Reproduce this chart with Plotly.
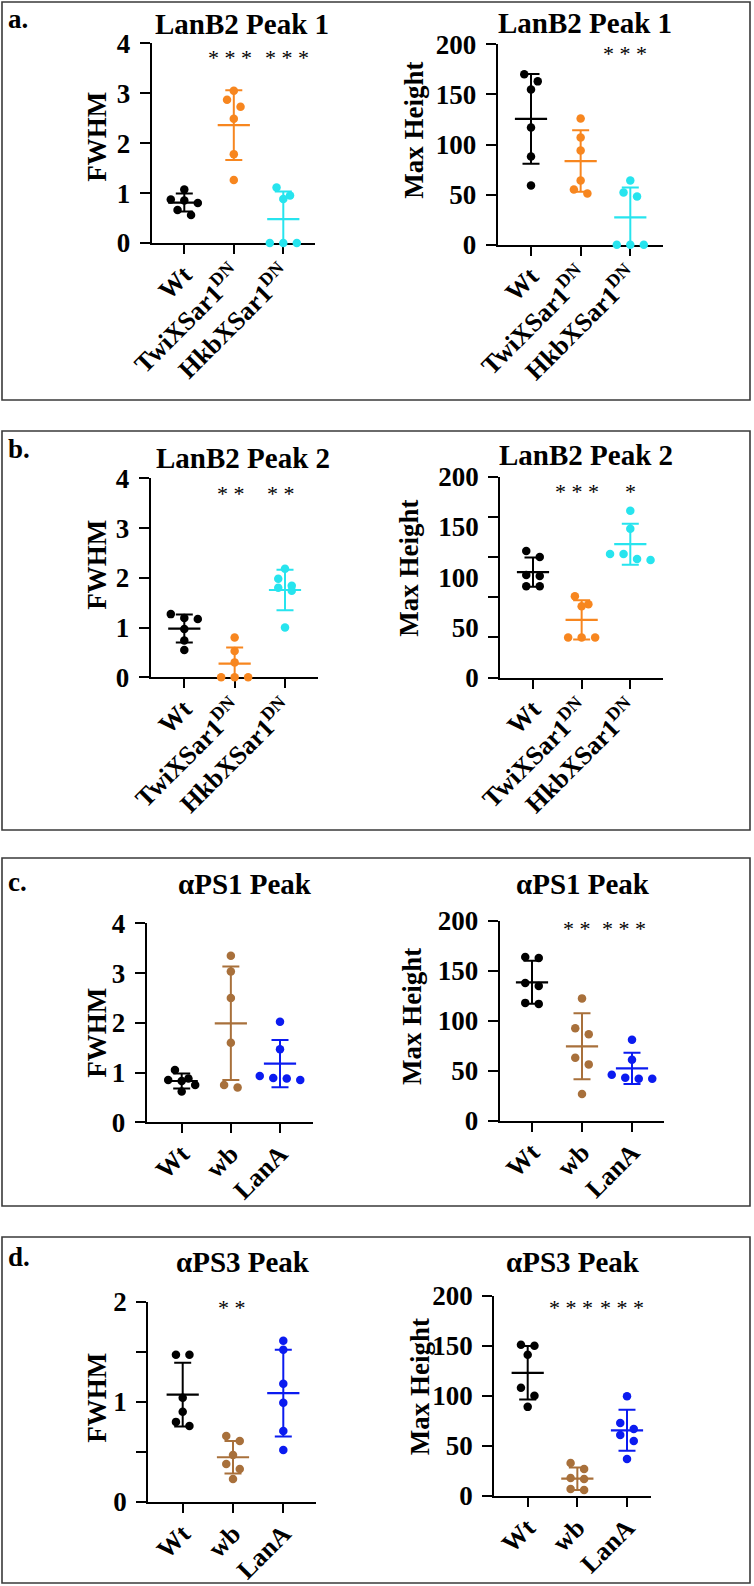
import plotly.graph_objects as go

W, H = 754, 1586
FONT = "Liberation Serif, Times New Roman, Times, serif"

# ---------------- colours ----------------
C_BLACK = "#000000"
C_ORANGE = "#F7861F"
C_CYAN = "#27E4EE"
C_BROWN = "#A8703B"
C_BLUE = "#0B1BF0"

# ---------------- categories ----------------
cats_sar = ["Wt", "TwiXSar1<sup>DN</sup>", "HkbXSar1<sup>DN</sup>"]
cats_ps = ["Wt", "wb", "LanA"]

# ---------------- data ----------------
# a. LanB2 Peak 1 - FWHM
a_fwhm_wt = [1.07, 0.87, 0.85, 0.80, 0.66, 0.56]
a_fwhm_twi = [3.05, 2.87, 2.73, 2.49, 1.78, 1.26]
a_fwhm_hkb = [1.11, 0.95, 0.88, 0.0, 0.0, 0.0]
a_fwhm_mean = [0.81, 2.36, 0.48]
a_fwhm_sd = [0.18, 0.70, 0.55]
a_fwhm_stars = ["", "* * *", "* * *"]

# a. LanB2 Peak 1 - Max Height
a_h_wt = [170, 163, 155, 117, 88, 59]
a_h_twi = [126, 107, 94, 64, 55, 51]
a_h_hkb = [64, 52, 48, 0, 0, 0]
a_h_mean = [125.5, 83.5, 27.3]
a_h_sd = [44.8, 30.7, 29.7]
a_h_stars = ["", "", "* * *"]

# b. LanB2 Peak 2 - FWHM
b_fwhm_wt = [1.27, 1.19, 1.17, 0.97, 0.74, 0.55]
b_fwhm_twi = [0.80, 0.53, 0.30, 0.0, 0.0, 0.0]
b_fwhm_hkb = [2.18, 1.98, 1.84, 1.80, 1.74, 1.00]
b_fwhm_mean = [0.98, 0.275, 1.755]
b_fwhm_sd = [0.28, 0.325, 0.405]
b_fwhm_stars = ["", "* *", "* *"]

# b. LanB2 Peak 2 - Max Height
b_h_wt = [126, 120, 102, 101, 91, 91]
b_h_twi = [81, 73, 71, 40, 40, 40]
b_h_hkb = [166, 148, 123, 123, 118, 117]
b_h_mean = [105.0, 57.5, 132.7]
b_h_sd = [14.6, 19.5, 20.3]
b_h_stars = ["", "* * *", "*"]

# c. aPS1 Peak - FWHM
c_fwhm_wt = [1.05, 0.88, 0.85, 0.83, 0.75, 0.62]
c_fwhm_wb = [3.35, 3.03, 2.50, 1.60, 0.75, 0.70]
c_fwhm_lana = [2.02, 1.47, 0.93, 0.89, 0.88, 0.85]
c_fwhm_mean = [0.83, 1.99, 1.18]
c_fwhm_sd = [0.153, 1.14, 0.475]
c_fwhm_stars = ["", "*", ""]

# c. aPS1 Peak - Max Height
c_h_wt = [164, 163, 138, 135, 118, 117]
c_h_wb = [122.5, 92.5, 86.5, 63, 56.4, 26.7]
c_h_lana = [81, 61, 46, 43, 42, 42]
c_h_mean = [138.6, 74.5, 52.4]
c_h_sd = [21.5, 33.0, 15.7]
c_h_stars = ["", "* *", "* * *"]

# d. aPS3 Peak - FWHM
d_fwhm_wt = [1.47, 1.47, 1.04, 0.90, 0.80, 0.76]
d_fwhm_wb = [0.66, 0.61, 0.47, 0.38, 0.33, 0.23]
d_fwhm_lana = [1.61, 1.52, 1.18, 0.99, 0.71, 0.52]
d_fwhm_mean = [1.073, 0.447, 1.087]
d_fwhm_sd = [0.318, 0.163, 0.433]
d_fwhm_stars = ["", "* *", ""]

# d. aPS3 Peak - Max Height
d_h_wt = [151, 150, 141, 108, 100, 89]
d_h_wb = [33, 27, 18, 17, 7, 6]
d_h_lana = [99.5, 73, 67, 61, 55, 37]
d_h_mean = [123.0, 17.3, 65.6]
d_h_sd = [26.7, 11.2, 20.5]
d_h_stars = ["", "* * *", "* * *"]

# y tick definitions
fwhm4_ticks = [0, 1, 2, 3, 4]
fwhm4_labels = ["0", "1", "2", "3", "4"]
height_ticks = [0, 50, 100, 150, 200]
height_labels = ["0", "50", "100", "150", "200"]
height_minor_b = [0, 40, 80, 120, 160, 200]   # misplaced tick marks in panel b (right)
fwhm2_ticks = [0, 0.5, 1, 1.5, 2]
fwhm2_labels = ["0", "", "1", "", "2"]

# ---------------- layout geometry (pixels) ----------------
sar_cols = [C_BLACK, C_ORANGE, C_CYAN]
ps_cols = [C_BLACK, C_BROWN, C_BLUE]

panels = [
    dict(title="LanB2 Peak 1", ylab="FWHM", cats=cats_sar, cols=sar_cols,
         groups=[a_fwhm_wt, a_fwhm_twi, a_fwhm_hkb], mean=a_fwhm_mean, sd=a_fwhm_sd, stars=a_fwhm_stars,
         yr=[0, 4], tv=fwhm4_ticks, tt=fwhm4_labels, minor=None,
         box=(151.7, 315, 43.3, 243), c0=184.3, c2=283.3,
         tpos=(242, 24), lpos=(96.7, 137), stary=53, starx=[0, 229.5, 287]),
    dict(title="LanB2 Peak 1", ylab="Max Height", cats=cats_sar, cols=sar_cols,
         groups=[a_h_wt, a_h_twi, a_h_hkb], mean=a_h_mean, sd=a_h_sd, stars=a_h_stars,
         yr=[0, 200], tv=height_ticks, tt=height_labels, minor=None,
         box=(497.7, 663, 44.3, 244.7), c0=531, c2=630.3,
         tpos=(585, 22.5), lpos=(413.7, 130), stary=49, starx=[0, 0, 625]),
    dict(title="LanB2 Peak 2", ylab="FWHM", cats=cats_sar, cols=sar_cols,
         groups=[b_fwhm_wt, b_fwhm_twi, b_fwhm_hkb], mean=b_fwhm_mean, sd=b_fwhm_sd, stars=b_fwhm_stars,
         yr=[0, 4], tv=fwhm4_ticks, tt=fwhm4_labels, minor=None,
         box=(150.7, 318, 478.3, 677.3), c0=184.3, c2=285,
         tpos=(242.5, 458), lpos=(96.7, 565), stary=488, starx=[0, 230.8, 281]),
    dict(title="LanB2 Peak 2", ylab="Max Height", cats=cats_sar, cols=sar_cols,
         groups=[b_h_wt, b_h_twi, b_h_hkb], mean=b_h_mean, sd=b_h_sd, stars=b_h_stars,
         yr=[0, 200], tv=height_ticks, tt=height_labels, minor=height_minor_b,
         box=(500.3, 663, 476.5, 677.7), c0=533, c2=630.3,
         tpos=(586, 455), lpos=(408.7, 568), stary=487, starx=[0, 577, 630.3]),
    dict(title="αPS1 Peak", ylab="FWHM", cats=cats_ps, cols=ps_cols,
         groups=[c_fwhm_wt, c_fwhm_wb, c_fwhm_lana], mean=c_fwhm_mean, sd=c_fwhm_sd, stars=c_fwhm_stars,
         yr=[0, 4], tv=fwhm4_ticks, tt=fwhm4_labels, minor=None,
         box=(146.7, 312.7, 923.3, 1122.3), c0=181.7, c2=280,
         tpos=(245, 884), lpos=(96.7, 1033), stary=923, starx=[0, 230.3, 0]),
    dict(title="αPS1 Peak", ylab="Max Height", cats=cats_ps, cols=ps_cols,
         groups=[c_h_wt, c_h_wb, c_h_lana], mean=c_h_mean, sd=c_h_sd, stars=c_h_stars,
         yr=[0, 200], tv=height_ticks, tt=height_labels, minor=None,
         box=(499.7, 664.3, 921, 1120.7), c0=532, c2=632,
         tpos=(583, 884), lpos=(412, 1017), stary=923, starx=[0, 576.8, 623.7]),
    dict(title="αPS3 Peak", ylab="FWHM", cats=cats_ps, cols=ps_cols,
         groups=[d_fwhm_wt, d_fwhm_wb, d_fwhm_lana], mean=d_fwhm_mean, sd=d_fwhm_sd, stars=d_fwhm_stars,
         yr=[0, 2], tv=fwhm2_ticks, tt=fwhm2_labels, minor=None,
         box=(148.3, 316, 1301.7, 1502), c0=182.7, c2=283.3,
         tpos=(243, 1262), lpos=(96.7, 1398), stary=1302, starx=[0, 232, 0]),
    dict(title="αPS3 Peak", ylab="Max Height", cats=cats_ps, cols=ps_cols,
         groups=[d_h_wt, d_h_wb, d_h_lana], mean=d_h_mean, sd=d_h_sd, stars=d_h_stars,
         yr=[0, 200], tv=height_ticks, tt=height_labels, minor=None,
         box=(494.3, 651, 1295.7, 1496), c0=527.7, c2=627,
         tpos=(572.5, 1262), lpos=(420.3, 1387), stary=1302, starx=[0, 570.7, 621.5]),
]

frames = [("a.", (2, 2, 750, 400), (6, 19)),
          ("b.", (2, 431, 750, 830), (6, 449)),
          ("c.", (2, 858, 750, 1206), (6, 882)),
          ("d.", (2, 1237, 750, 1583), (6, 1257))]


def px_x(x):
    return x / W


def px_y(y):
    return 1 - y / H


def jitter(values, ppu, ppc, step_px=13.5, thresh_px=8.5):
    order = sorted(range(len(values)), key=lambda i: -values[i])
    rows = []
    for i in order:
        if rows and abs(values[rows[-1][0]] - values[i]) * ppu < thresh_px:
            rows[-1].append(i)
        else:
            rows.append([i])
    offs = [0.0] * len(values)
    for row in rows:
        n = len(row)
        for k, i in enumerate(row):
            offs[i] = (k - (n - 1) / 2) * step_px / ppc
    return offs


fig = go.Figure()
layout = dict(width=W, height=H, autosize=False,
              margin=dict(l=0, r=0, t=0, b=0, pad=0, autoexpand=False),
              paper_bgcolor="white", plot_bgcolor="white", showlegend=False,
              annotations=[], shapes=[])

tickfont = dict(family=FONT, size=27, color="black", weight="bold")
xtickfont = dict(family=FONT, size=26, color="black", weight="bold")

for k, p in enumerate(panels, start=1):
    sfx = "" if k == 1 else str(k)
    xname, yname = "x" + sfx, "y" + sfx
    x0, x1, y0, y1 = p["box"]
    ppc = (p["c2"] - p["c0"]) / 2.0
    ppu = (y1 - y0) / (p["yr"][1] - p["yr"][0])
    xr = [(x0 - p["c0"]) / ppc, (x1 - p["c0"]) / ppc]

    xa = dict(domain=[px_x(x0), px_x(x1)], range=xr, anchor=yname, automargin=False,
              tickmode="array", tickvals=[0, 1, 2], ticktext=p["cats"], tickangle=-45,
              ticks="outside", ticklen=9, tickwidth=2.3, tickcolor="black",
              showline=True, linewidth=2.3, linecolor="black",
              showgrid=False, zeroline=False, tickfont=xtickfont, layer="below traces",
              ticklabelstandoff=-5, fixedrange=True)
    ya = dict(domain=[px_y(y1), px_y(y0)], range=p["yr"], anchor=xname, automargin=False,
              tickmode="array", tickvals=p["tv"], ticktext=p["tt"],
              ticks="outside", ticklen=10, tickwidth=2.3, tickcolor="black",
              showline=True, linewidth=2.3, linecolor="black",
              showgrid=False, zeroline=False, tickfont=tickfont, layer="below traces",
              ticklabelstandoff=4, fixedrange=True)
    if p["minor"] is not None:
        ya["tickcolor"] = "rgba(0,0,0,0)"
        ya["minor"] = dict(tickmode="array", tickvals=p["minor"], ticks="outside",
                           ticklen=10, tickwidth=2.3, tickcolor="black", showgrid=False)
    layout["xaxis" + sfx] = xa
    layout["yaxis" + sfx] = ya

    for g, vals in enumerate(p["groups"]):
        col = p["cols"][g]
        offs = jitter(vals, ppu, ppc)
        m, s = p["mean"][g], p["sd"][g]
        fig.add_trace(go.Scatter(
            x=[g], y=[m], mode="markers", xaxis=xname, yaxis=yname,
            marker=dict(symbol="line-ew", size=23, color=col, line=dict(color=col, width=2.2)),
            error_y=dict(type="data", symmetric=True, array=[s], color=col, thickness=2, width=8.5),
            cliponaxis=True, hoverinfo="skip"))
        fig.add_trace(go.Scatter(
            x=[g + o for o in offs], y=vals, mode="markers", xaxis=xname, yaxis=yname,
            marker=dict(symbol="circle", size=8.5, color=col, line=dict(width=0)),
            cliponaxis=False, hoverinfo="skip"))

    for g, st in enumerate(p["stars"]):
        if st.strip():
            layout["annotations"].append(dict(
                x=px_x(p["starx"][g]), y=p["yr"][0] + (y1 - p["stary"]) / ppu,
                xref="paper", yref=yname,
                text=st.strip(), showarrow=False, xanchor="center", yanchor="middle",
                yshift=-5, font=dict(family=FONT, size=22, color="black")))

    tx, ty = p["tpos"]
    layout["annotations"].append(dict(
        x=px_x(tx), y=px_y(ty), xref="paper", yref="paper", text=p["title"],
        showarrow=False, xanchor="center", yanchor="middle",
        font=dict(family=FONT, size=29, color="black", weight="bold")))
    lx, ly = p["lpos"]
    layout["annotations"].append(dict(
        x=px_x(lx), y=px_y(ly), xref="paper", yref="paper", text=p["ylab"],
        showarrow=False, xanchor="center", yanchor="middle", textangle=-90,
        font=dict(family=FONT, size=27, color="black", weight="bold")))

for lab, (bx0, by0, bx1, by1), (lx, ly) in frames:
    layout["shapes"].append(dict(type="rect", xref="paper", yref="paper",
                                 x0=px_x(bx0), x1=px_x(bx1), y0=px_y(by1), y1=px_y(by0),
                                 line=dict(color="#3a3a3a", width=1.6), layer="below"))
    layout["annotations"].append(dict(
        x=px_x(lx), y=px_y(ly), xref="paper", yref="paper", text=lab,
        showarrow=False, xanchor="left", yanchor="middle",
        font=dict(family=FONT, size=27, color="black", weight="bold")))

fig.update_layout(**layout)
fig.write_html("out.html", config={"displayModeBar": False},
               post_script="document.body.style.margin='0';")
